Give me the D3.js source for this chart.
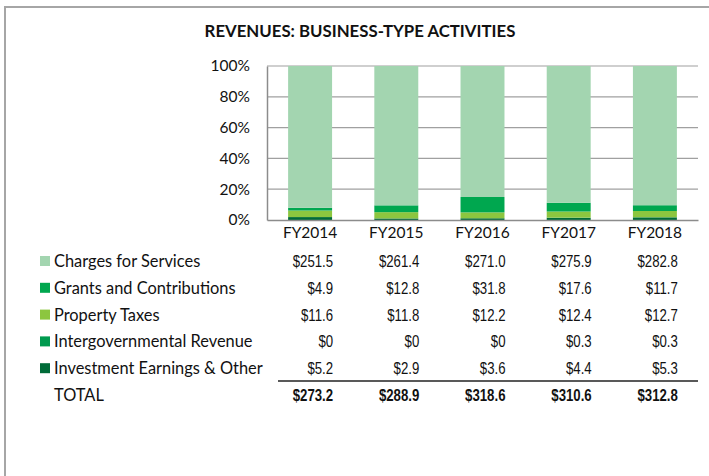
<!DOCTYPE html>
<html>
<head>
<meta charset="utf-8">
<script src="https://cdn.jsdelivr.net/npm/d3@7"></script>
<style>
  body { margin: 0; background: #fff; }
  svg { display: block; }
  .lbl { font-family: Lato, "Open Sans", sans-serif; fill: #111; }
  .num { font-family: "Liberation Sans Narrow", "Liberation Sans", Arial, sans-serif; fill: #111; }
</style>
</head>
<body>
<div id="chart"></div>
<script>
// data
var years = ['FY2014', 'FY2015', 'FY2016', 'FY2017', 'FY2018'];
var seriesNames = ['Charges for Services', 'Grants and Contributions', 'Property Taxes', 'Intergovernmental Revenue', 'Investment Earnings & Other'];
var charges = [251.5, 261.4, 271.0, 275.9, 282.8];
var grants = [4.9, 12.8, 31.8, 17.6, 11.7];
var propertyTax = [11.6, 11.8, 12.2, 12.4, 12.7];
var intergov = [0, 0, 0, 0.3, 0.3];
var investment = [5.2, 2.9, 3.6, 4.4, 5.3];
var totals = [273.2, 288.9, 318.6, 310.6, 312.8];
var yTicks = [0, 0.2, 0.4, 0.6, 0.8, 1];

var colors = {
    'Charges for Services': '#a3d5b0',
    'Grants and Contributions': '#00a74f',
    'Property Taxes': '#8cc63f',
    'Intergovernmental Revenue': '#009a4f',
    'Investment Earnings & Other': '#006b38'
};

var W = 709, H = 476;
var plot = {left: 267, right: 698, top: 66, bottom: 220};
var narrow = 0.8; // squeeze for the condensed number font

var svg = d3.select('#chart').append('svg')
    .attr('width', W)
    .attr('height', H);

// outer frame
svg.append('path')
    .attr('d', 'M5,' + H + 'V7H' + W)
    .attr('fill', 'none')
    .attr('stroke', '#a6a6a6')
    .attr('stroke-width', 2);

svg.append('text')
    .attr('class', 'lbl')
    .attr('x', 360)
    .attr('y', 37)
    .attr('text-anchor', 'middle')
    .style('font-size', '16.8px')
    .style('font-weight', 'bold')
    .text('REVENUES: BUSINESS-TYPE ACTIVITIES');

// build rows
var table = years.map(function(y, i) {
    return {
        year: y,
        'Charges for Services': charges[i],
        'Grants and Contributions': grants[i],
        'Property Taxes': propertyTax[i],
        'Intergovernmental Revenue': intergov[i],
        'Investment Earnings & Other': investment[i]
    };
});

var stackKeys = seriesNames.slice().reverse();
var stacked = d3.stack().keys(stackKeys).offset(d3.stackOffsetExpand)(table);

var x = d3.scaleBand()
    .domain(years)
    .range([plot.left, plot.right])
    .paddingInner(0.49)
    .paddingOuter(0.245);

var y = d3.scaleLinear()
    .domain([0, 1])
    .range([plot.bottom, plot.top]);

// gridlines
svg.append('g')
    .selectAll('line')
    .data(yTicks.slice(1))
    .enter()
    .append('line')
    .attr('x1', plot.left)
    .attr('x2', plot.right)
    .attr('y1', function(d) { return y(d); })
    .attr('y2', function(d) { return y(d); })
    .attr('stroke', '#a0a0a0')
    .attr('stroke-width', 1.2);

// bars
svg.append('g')
    .selectAll('g')
    .data(stacked)
    .enter()
    .append('g')
    .attr('fill', function(d) { return colors[d.key]; })
    .selectAll('rect')
    .data(function(d) { return d; })
    .enter()
    .append('rect')
    .attr('x', function(d) { return x(d.data.year); })
    .attr('width', x.bandwidth())
    .attr('y', function(d) { return y(d[1]); })
    .attr('height', function(d) { return y(d[0]) - y(d[1]); });

// axes
var yAxis = svg.append('g')
    .attr('transform', 'translate(' + plot.left + ',0)')
    .call(d3.axisLeft(y).tickValues(yTicks).tickFormat(d3.format('.0%')).tickSize(0).tickPadding(17));
yAxis.select('.domain').attr('stroke', '#8c8c8c').attr('stroke-width', 1.5);
yAxis.selectAll('text').attr('class', 'lbl').style('font-size', '15.5px').attr('fill', '#111');

var xAxis = svg.append('g')
    .attr('transform', 'translate(0,' + plot.bottom + ')')
    .call(d3.axisBottom(x).tickSize(0).tickPadding(7));
xAxis.select('.domain').attr('stroke', '#8c8c8c').attr('stroke-width', 1.5);
xAxis.selectAll('text').attr('class', 'lbl').style('font-size', '15.5px').attr('fill', '#111');

// data table
var rowY = d3.scalePoint()
    .domain(seriesNames.concat(['TOTAL']))
    .range([261, 395]);

var seriesVals = [charges, grants, propertyTax, intergov, investment];
var fmt = function(v) { return v === 0 ? '$0' : '$' + d3.format('.1f')(v); };

function numCells(sel, values, bold) {
    sel.selectAll('text.num')
        .data(values)
        .enter()
        .append('text')
        .attr('class', 'num')
        .attr('transform', function(d, j) {
            return 'translate(' + (x(years[j]) + x.bandwidth() + 1) + ',0) scale(' + narrow + ',1)';
        })
        .attr('dy', '0.36em')
        .attr('text-anchor', 'end')
        .style('font-size', '16.5px')
        .style('font-weight', bold ? 'bold' : 'normal')
        .text(fmt);
}

var rows = svg.append('g')
    .selectAll('g')
    .data(seriesNames)
    .enter()
    .append('g')
    .attr('transform', function(d) { return 'translate(0,' + rowY(d) + ')'; });

rows.append('rect')
    .attr('x', 40)
    .attr('y', -5)
    .attr('width', 10)
    .attr('height', 10)
    .attr('fill', function(d) { return colors[d]; });

rows.append('text')
    .attr('class', 'lbl')
    .attr('x', 54)
    .attr('dy', '0.36em')
    .style('font-size', '16.4px')
    .text(function(d) { return d; });

rows.each(function(name, i) {
    numCells(d3.select(this), seriesVals[i], false);
});

// total
svg.append('line')
    .attr('x1', 278)
    .attr('x2', plot.right)
    .attr('y1', 381)
    .attr('y2', 381)
    .attr('stroke', '#222')
    .attr('stroke-width', 1.5);

var totalRow = svg.append('g')
    .attr('transform', 'translate(0,' + rowY('TOTAL') + ')');

totalRow.append('text')
    .attr('class', 'lbl')
    .attr('x', 54)
    .attr('dy', '0.36em')
    .style('font-size', '16.4px')
    .text('TOTAL');

numCells(totalRow, totals, true);
</script>
</body>
</html>
